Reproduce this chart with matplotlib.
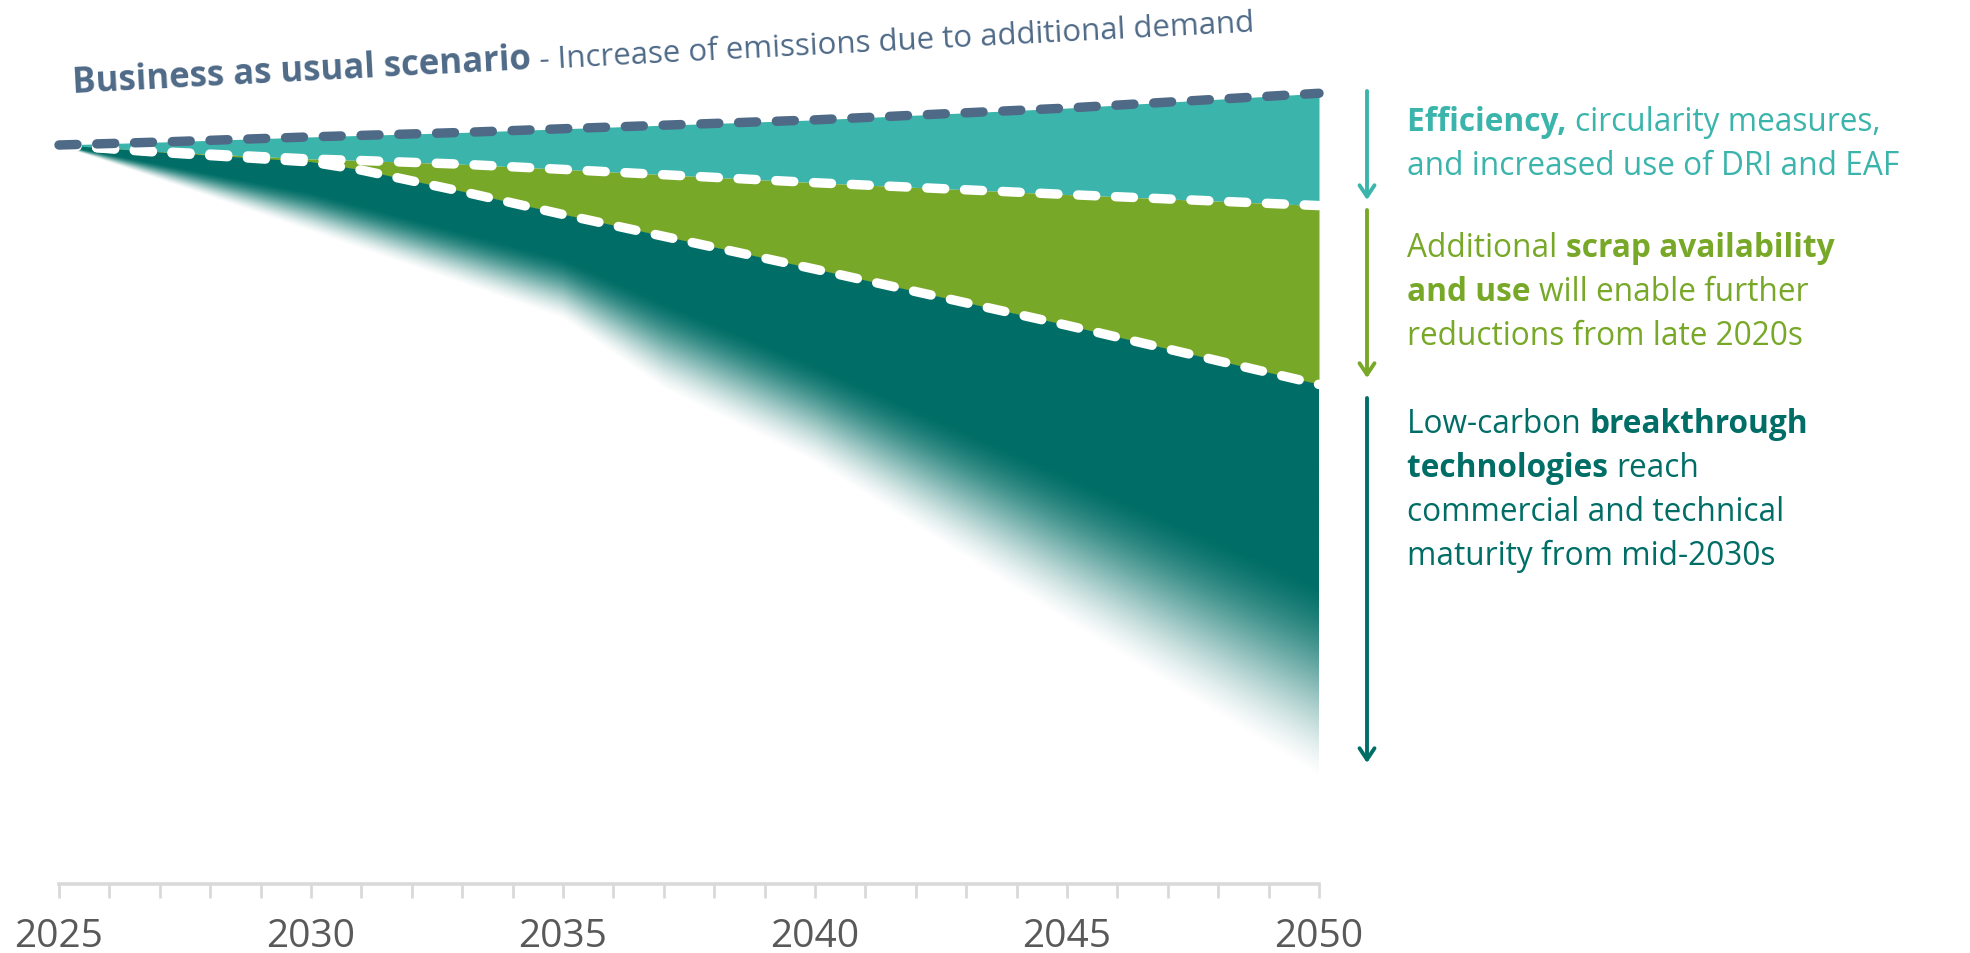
import numpy as np
import matplotlib
matplotlib.use("Agg")
import matplotlib.pyplot as plt
from matplotlib.patches import Polygon
from matplotlib.font_manager import FontProperties

# ---------------- data ----------------
years = [2025, 2027, 2030, 2031, 2033, 2035, 2040, 2045, 2050]
bau = [100.0, 100.4, 101.1, 101.3, 101.7, 102.2, 103.4, 105.0, 107.0]
efficiency = [100.0, 99.1, 98.1, 97.9, 97.4, 96.7, 94.9, 93.3, 91.8]
scrap = [100.0, 99.0, 97.7, 96.6, 93.7, 90.6, 83.2, 75.6, 67.6]

fade_years = [2025, 2030, 2035, 2037, 2040, 2045, 2050]
fade_outer = [100.0, 88.3, 76.5, 67.0, 57.0, 35.5, 14.5]   # fully faded edge
fade_inner = [100.0, 93.5, 84.5, 78.5, 70.0, 55.0, 40.0]   # fully opaque edge

tick_years = [2025, 2030, 2035, 2040, 2045, 2050]
minor_years = list(range(2025, 2051))

title_runs = [("Business as usual scenario ", "bold"),
              ("- Increase of emissions due to additional demand", "normal")]

note_efficiency = [[("Efficiency, ", "bold"), ("circularity measures,", "normal")],
                   [("and increased use of DRI and EAF", "normal")]]
note_scrap = [[("Additional ", "normal"), ("scrap availability", "bold")],
              [("and use ", "bold"), ("will enable further", "normal")],
              [("reductions from late 2020s", "normal")]]
note_breakthrough = [[("Low-carbon ", "normal"), ("breakthrough", "bold")],
                     [("technologies ", "bold"), ("reach", "normal")],
                     [("commercial and technical", "normal")],
                     [("maturity from mid-2030s", "normal")]]

# ---------------- style ----------------
TEAL = "#3bb5ac"
GREEN = "#78a827"
DARK = "#006e66"
SLATE = "#4f6a87"
AXIS_GREY = "#d9d9d9"
LABEL_GREY = "#595959"
FONT = "Open Sans"

W, H = 1970, 954
PX_PER_UNIT = 7.39
AX_BOTTOM_PX = 885  # from top

fig = plt.figure(figsize=(W / 100, H / 100), dpi=100)
ax = fig.add_axes([59 / W, (H - AX_BOTTOM_PX) / H, (1319 - 59) / W, AX_BOTTOM_PX / H])
ax.set_xlim(2025, 2050)
ax.set_ylim(0, AX_BOTTOM_PX / PX_PER_UNIT)
ax.patch.set_alpha(0)

# fills
ax.fill_between(years, efficiency, bau, color=TEAL, lw=0, zorder=1)
ax.fill_between(years, scrap, efficiency, color=GREEN, lw=0, zorder=1)

# breakthrough wedge with soft fading lower edge
nx, ny = 1260, 900
xs = np.linspace(2025, 2050, nx)
ys = np.linspace(0, 110, ny)
outer = np.interp(xs, fade_years, fade_outer)
inner = np.interp(xs, fade_years, fade_inner)
X, Y = np.meshgrid(xs, ys)
t = (Y - outer[None, :]) / np.maximum(inner - outer, 1e-6)[None, :]
t = np.clip(t, 0, 1)
alpha = 0.5 * t + 0.5 * t * t * (3 - 2 * t)
rgb = matplotlib.colors.to_rgb(DARK)
img = np.zeros((ny, nx, 4))
img[..., 0], img[..., 1], img[..., 2] = rgb
img[..., 3] = alpha
im = ax.imshow(img, extent=[2025, 2050, 0, 110], origin="lower", aspect="auto",
               interpolation="bilinear", zorder=1)
clip_poly = Polygon(list(zip(years, scrap)) + [(2050, 0), (2025, 0)], closed=True,
                    transform=ax.transData, facecolor="none", edgecolor="none")
im.set_clip_path(clip_poly)

# dashed lines
dash_kw = dict(lw=6.8, dashes=(1.9, 2.1), dash_capstyle="round", clip_on=False)
ax.plot(years, efficiency, color="white", zorder=3, **dash_kw)
ax.plot(years, scrap, color="white", zorder=3, **dash_kw)
ax.plot(years, bau, color=SLATE, zorder=4, **dash_kw)

# axis styling
for s in ["top", "left", "right"]:
    ax.spines[s].set_visible(False)
ax.spines["bottom"].set_color(AXIS_GREY)
ax.spines["bottom"].set_linewidth(2.6)
ax.set_yticks([])
ax.set_xticks(tick_years)
ax.set_xticks(minor_years, minor=True)
ax.set_xticklabels([str(y) for y in tick_years])
ax.tick_params(axis="x", which="both", direction="out", length=10, width=2.0,
               color=AXIS_GREY)
ax.tick_params(axis="x", which="major", pad=14, labelsize=28, labelcolor=LABEL_GREY)
for lab in ax.get_xticklabels():
    lab.set_fontfamily(FONT)

# ---------------- rich text helpers ----------------
renderer = fig.canvas.get_renderer()


def text_width(s, prop):
    w1, _, _ = renderer.get_text_width_height_descent(s + "|", prop, ismath=False)
    w2, _, _ = renderer.get_text_width_height_descent("|", prop, ismath=False)
    return w1 - w2


def draw_runs(x, y, runs, size, color, angle=0.0, sizes=None):
    th = np.deg2rad(angle)
    off = 0.0
    for i, (s, weight) in enumerate(runs):
        sz = sizes[i] if sizes else size
        prop = FontProperties(family=FONT, size=sz, weight=weight)
        px = x + off * np.cos(th)
        py = (H - y) + off * np.sin(th)
        fig.text(px / W, py / H, s, fontproperties=prop, color=color,
                 rotation=angle, rotation_mode="anchor", ha="left", va="baseline")
        off += text_width(s, prop)


# title (slightly tilted)
draw_runs(73, 93, title_runs, 24, SLATE, angle=3.0, sizes=[25, 22.5])

# right-hand notes
NOTE_X = 1407
NOTE_SIZE = 22.8
LINE_H = 44
for block, color, y0 in [(note_efficiency, TEAL, 131),
                         (note_scrap, GREEN, 257),
                         (note_breakthrough, DARK, 433)]:
    for k, line in enumerate(block):
        draw_runs(NOTE_X, y0 + k * LINE_H, line, NOTE_SIZE, color)

# arrows
ARROW_X = 1367
for color, y_top, y_bot in [(TEAL, 92, 201), (GREEN, 211, 379), (DARK, 399, 764)]:
    fig.add_artist(matplotlib.patches.FancyArrowPatch(
        (ARROW_X, H - y_top), (ARROW_X, H - y_bot), transform=None,
        arrowstyle="->,head_length=0.45,head_width=0.3", mutation_scale=18,
        color=color, lw=2.8, shrinkA=0, shrinkB=0))

fig.savefig("out.png", dpi=100, facecolor="white")
